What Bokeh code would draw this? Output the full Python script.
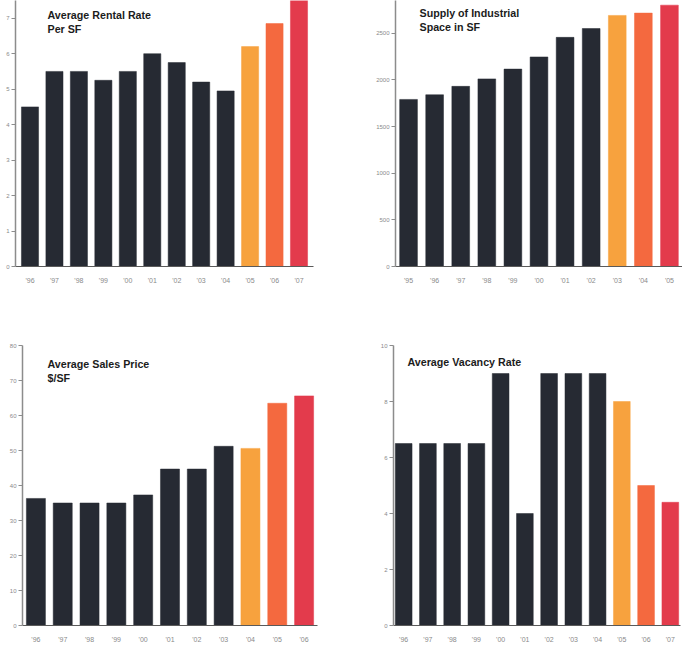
from bokeh.plotting import figure
from bokeh.layouts import column, row
from bokeh.models import FactorRange, Range1d, FixedTicker, Label, ColumnDataSource
from bokeh.embed import file_html
from bokeh.resources import INLINE

# ---- data -------------------------------------------------------------
rent_years = ["'96", "'97", "'98", "'99", "'00", "'01", "'02", "'03", "'04", "'05", "'06", "'07"]
rent_values = [4.5, 5.5, 5.5, 5.25, 5.5, 6.0, 5.75, 5.2, 4.95, 6.2, 6.85, 7.5]
rent_ticks = [0, 1, 2, 3, 4, 5, 6, 7]

supply_years = ["'95", "'96", "'97", "'98", "'99", "'00", "'01", "'02", "'03", "'04", "'05"]
supply_values = [1790, 1840, 1930, 2010, 2115, 2245, 2455, 2550, 2690, 2715, 2800]
supply_ticks = [0, 500, 1000, 1500, 2000, 2500]

price_years = ["'96", "'97", "'98", "'99", "'00", "'01", "'02", "'03", "'04", "'05", "'06"]
price_values = [36.3, 35, 35, 35, 37.3, 44.7, 44.7, 51.2, 50.6, 63.5, 65.6]
price_ticks = [0, 10, 20, 30, 40, 50, 60, 70, 80]

vacancy_years = ["'96", "'97", "'98", "'99", "'00", "'01", "'02", "'03", "'04", "'05", "'06", "'07"]
vacancy_values = [6.5, 6.5, 6.5, 6.5, 9.0, 4.0, 9.0, 9.0, 9.0, 8.0, 5.0, 4.4]
vacancy_ticks = [0, 2, 4, 6, 8, 10]

# ---- style ------------------------------------------------------------
BG = "#ffffff"
HIST = "#262a33"
PROJ = ["#f7a23e", "#f4693f", "#e33b4c"]   # last three years are projections
FONT = "Liberation Sans"


def bar_colors(n):
    return [HIST] * (n - len(PROJ)) + PROJ


def panel(years, values, ticks, y_end, title, w, h, left, right, top, bottom,
          pad, bar_w, tx, ty):
    p = figure(width=w, height=h, output_backend="svg", toolbar_location=None,
               x_range=FactorRange(*years, range_padding=pad,
                                   range_padding_units="absolute"),
               y_range=Range1d(0, y_end),
               min_border_left=left, min_border_right=right,
               min_border_top=top, min_border_bottom=bottom,
               background_fill_color=BG, border_fill_color=BG,
               outline_line_color=None)
    src = ColumnDataSource(dict(year=years, value=values,
                                color=bar_colors(len(years))))
    p.vbar(x="year", top="value", width=bar_w, source=src,
           fill_color="color", line_color="color", line_width=0.5)
    p.grid.visible = False

    ya = p.yaxis[0]
    ya.ticker = FixedTicker(ticks=ticks)
    ya.axis_line_color = "#8c8c8c"
    ya.axis_line_width = 1.5
    ya.major_tick_line_color = "#8c8c8c"
    ya.major_tick_out = 4
    ya.major_tick_in = 0
    ya.minor_tick_line_color = None
    ya.major_label_text_font = FONT
    ya.major_label_text_font_size = "6px"
    ya.major_label_text_color = "#8a8a8a"
    ya.major_label_standoff = 2

    xa = p.xaxis[0]
    xa.axis_line_color = "#5a5a5a"
    xa.axis_line_width = 1.2
    xa.major_tick_line_color = None
    xa.major_label_text_font = FONT
    xa.major_label_text_font_size = "7px"
    xa.major_label_text_color = "#8a8a8a"
    xa.major_label_standoff = 4

    p.add_layout(Label(x=tx, y=ty, x_units="screen", y_units="screen",
                       text=title, text_font=FONT, text_font_style="bold",
                       text_font_size="10.7px", text_color="#1c1c1c",
                       text_baseline="top", text_line_height=1.2))
    return p


p1 = panel(rent_years, rent_values, rent_ticks, 7.5,
           "Average Rental Rate\nPer SF",
           355, 320, 15, 42, 0, 54, 0.093, 0.7, 32, 258)
p2 = panel(supply_years, supply_values, supply_ticks, 2850,
           "Supply of Industrial\nSpace in SF",
           327, 320, 40, 0, 0, 49, 0.0, 0.68, 24, 260)
p3 = panel(price_years, price_values, price_ticks, 80,
           "Average Sales Price\n$/SF",
           355, 325, 22, 38, 21, 18, 0.0, 0.71, 25, 268)
p4 = panel(vacancy_years, vacancy_values, vacancy_ticks, 10,
           "Average Vacancy Rate",
           327, 325, 38, 2, 25, 13, -0.08, 0.69, 14, 270)

layout = column(row(p1, p2, spacing=0), row(p3, p4, spacing=0), spacing=0)
open("out.html", "w").write(file_html(layout, INLINE))
